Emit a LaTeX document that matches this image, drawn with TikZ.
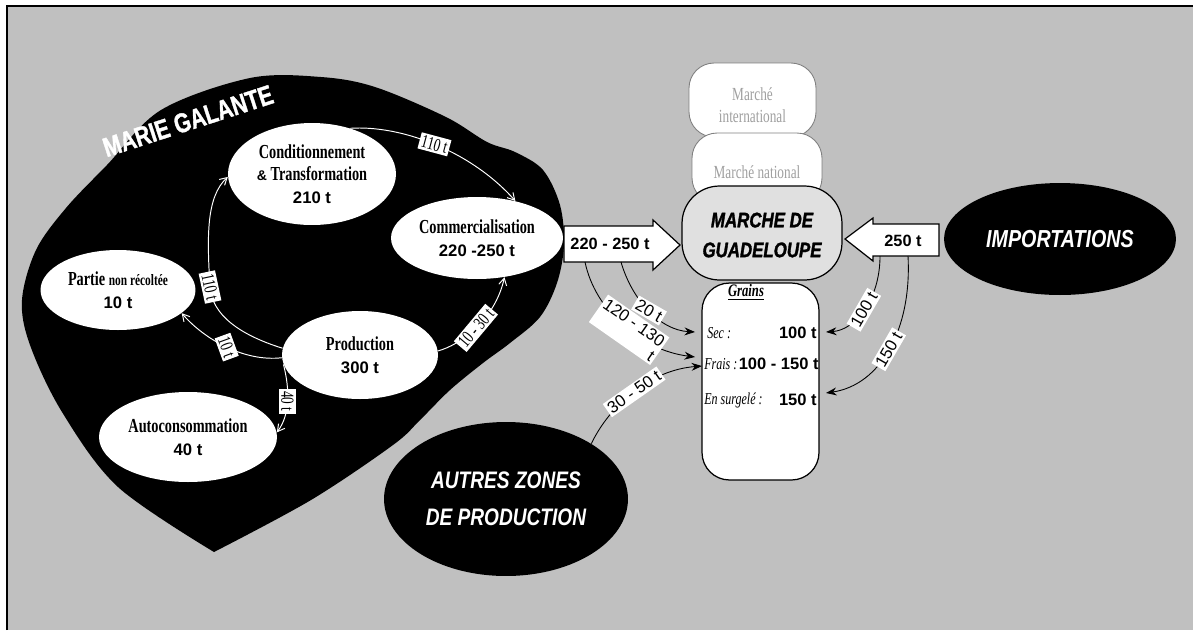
\documentclass[tikz,border=0pt]{standalone}
\usepackage{fontspec}
\setmainfont{Liberation Serif}
\newfontfamily\tmsc[FakeStretch=0.72]{Liberation Serif}
\newfontfamily\arl{Liberation Sans}
\newfontfamily\arn[FakeStretch=0.8]{Liberation Sans}
\newfontfamily\arh[FakeStretch=0.8,FakeBold=1.5]{Liberation Sans}
\newfontfamily\arm[FakeStretch=0.78,FakeBold=1.2]{Liberation Sans}
\usetikzlibrary{arrows.meta,shapes.geometric}
\definecolor{bgray}{HTML}{C0C0C0}
\definecolor{mgray}{HTML}{E0E0E0}
\definecolor{tgray}{HTML}{A0A0A0}
\tikzset{
  wel/.style={ellipse, fill=white, inner sep=0pt, align=center},
  bel/.style={ellipse, fill=black, inner sep=0pt, align=center, text=white},
  ilab/.style={fill=white, inner sep=1.2pt, font=\tmsc\fontsize{10.5}{11}\selectfont},
  olab/.style={fill=white, inner sep=1.2pt, font=\arl\fontsize{9.5}{10}\selectfont},
  warr/.style={draw=white, line width=0.55pt, -{Straight Barb[length=4pt,width=4.5pt]}},
  barr/.style={draw=black, line width=0.5pt, -{Stealth[length=6pt,width=4.5pt]}},
  ttl/.style={font=\tmsc\bfseries\fontsize{11.3}{12.8}\selectfont},
  num/.style={font=\arl\bfseries\fontsize{9.3}{12}\selectfont},
  bigarrow/.style={draw=black, fill=white, line width=0.7pt},
  mbox/.style={draw=gray, fill=white, line width=0.5pt, inner sep=0pt},
  mtxt/.style={text=tgray, align=center, font=\tmsc\fontsize{10.5}{12.8}\selectfont},
  gtxt/.style={font=\tmsc\itshape\fontsize{9.5}{11}\selectfont, inner sep=0pt},
  gnum/.style={font=\arl\bfseries\fontsize{9.4}{11}\selectfont, inner sep=0pt},
}
\begin{document}
\begin{tikzpicture}[x=0.02cm,y=-0.02cm]
\useasboundingbox (0,0) rectangle (1193,630);
\fill[white] (0,0) rectangle (1193,630);
\fill[bgray] (7,6) rectangle (1193,630);
\draw[line width=1.2pt] (7,630) -- (7,6) -- (1193,6);

% Marie Galante island
\fill[black] plot[smooth, tension=0.55] coordinates {(214,552) (118,487) (62,412) (30,345) (22,300) (36,250) (66,208) (107,165) (161,110) (250,78) (321,77) (375,87) (446,117) (487,142) (515,152) (543,170) (560,205) (564,245) (557,283) (540,317) (510,343) (483,363) (450,390) (420,420) (393,445) (311,500) (214,552)} -- cycle;

\node[rotate=18, text=white, inner sep=0pt, font=\arm\bfseries\fontsize{15.5}{16}\selectfont] (mgal) at (188,121) {MARIE GALANTE};

\node[wel, ttl, minimum width=3.36cm, minimum height=2.04cm] (cond) at (312,174)
  {Conditionnement\\{\arl\fontsize{8}{12.8}\selectfont\&} Transformation\\{\arl\fontsize{9.5}{12.8}\selectfont 210 t}};
\node[wel, ttl, minimum width=3.44cm, minimum height=1.64cm] (comm) at (477,238)
  {Commercialisation\\{\arl\fontsize{9.5}{12.8}\selectfont 220 -250 t}};
\node[wel, ttl, minimum width=3.1cm, minimum height=1.6cm] (partie) at (118,290)
  {Partie {\fontsize{9}{12.8}\selectfont non récoltée}\\{\arl\fontsize{9.5}{12.8}\selectfont 10 t}};
\node[wel, ttl, minimum width=3.12cm, minimum height=1.76cm] (prod) at (360,355)
  {Production\\{\arl\fontsize{9.5}{12.8}\selectfont 300 t}};
\node[wel, ttl, minimum width=3.56cm, minimum height=1.8cm] (auto) at (188,437)
  {Autoconsommation\\{\arl\fontsize{9.5}{12.8}\selectfont 40 t}};

% internal flows
\draw[warr] (cond.50) .. controls (400,125) and (470,150) .. node[pos=.5, ilab, rotate=-15] (l1) {110 t} (comm.44);
\draw[warr] (prod.175) .. controls (240,335) and (212,315) .. (210,287) node[ilab, rotate=-78] (l2) {110 t} .. controls (207,237) and (206,197) .. (cond.182);
\draw[warr] (prod.182) .. controls (245,362) and (205,340) .. node[pos=.5, ilab, rotate=-70] (l3) {10 t} (partie.340);
\draw[warr] (prod.187) .. controls (290,390) and (290,415) .. node[pos=.5, ilab, rotate=-90] (l4) {40 t} (auto.3);
\draw[warr] (prod.3) .. controls (460,345) and (495,320) .. node[pos=.5, ilab, rotate=50] (l5) {10 - 30 t} (comm.305);

% markets
\node[mbox, rounded corners=0.5cm, minimum width=2.54cm, minimum height=1.48cm] (mint) at (752.5,100) {};
\node[mtxt] (minttxt) at (752.5,105) {Marché\\international};
\node[mbox, rounded corners=0.5cm, minimum width=2.6cm, minimum height=1.4cm] (mnat) at (757,168) {};
\node[mtxt] (mnattxt) at (757,172) {Marché national};
\node[draw=black, fill=mgray, line width=0.7pt, rounded corners=0.75cm, minimum width=3.2cm, minimum height=1.88cm, inner sep=0pt] (mgua) at (762,233) {};
\node[align=center, font=\arh\bfseries\itshape\fontsize{12}{17}\selectfont] (mguatxt) at (762,235) {MARCHE DE\\GUADELOUPE};

\node[draw=black, fill=white, line width=0.7pt, rounded corners=0.55cm, minimum width=2.34cm, minimum height=3.94cm, inner sep=0pt] (grains) at (760.5,381.5) {};
\node[font=\tmsc\bfseries\itshape\fontsize{10}{12}\selectfont, inner sep=0pt] (gtitle) at (746,292) {\underline{Grains}};
\node[gtxt, anchor=west] (sec) at (707,333) {Sec :};
\node[gnum, anchor=east] (secv) at (817,333) {100 t};
\node[gtxt, anchor=west] (frais) at (704,364) {Frais :};
\node[gnum, anchor=east] (fraisv) at (819,364) {100 - 150 t};
\node[gtxt, anchor=west] (surg) at (704,400) {En surgelé :};
\node[gnum, anchor=east] (surgv) at (817,400) {150 t};

% block arrows
\draw[bigarrow] (564,226) -- (653,226) -- (653,220) -- (680,245) -- (653,270) -- (653,262) -- (564,262) -- cycle;
\node[num] (a1) at (610,244) {220 - 250 t};
\draw[bigarrow] (845,239) -- (873,218) -- (873,224) -- (939,224) -- (939,256) -- (873,256) -- (873,261) -- cycle;
\node[num] (a2) at (903,241) {250 t};

\node[bel, minimum width=4.64cm, minimum height=2.24cm, font=\arn\bfseries\itshape\fontsize{14}{16}\selectfont] (imp) at (1060,239) {IMPORTATIONS};
\node[bel, minimum width=4.88cm, minimum height=3.08cm, font=\arn\bfseries\itshape\fontsize{13.6}{21}\selectfont] (autres) at (506,499) {AUTRES ZONES\\DE PRODUCTION};

% connector ends
\coordinate (s0) at (585,262);
\coordinate (s1) at (621,262);
\coordinate (s2) at (880,256);
\coordinate (s3) at (908,256);
\coordinate (tsec) at (695,332);
\coordinate (tfrais) at (695,357);
\coordinate (tfrais2) at (702,366);
\coordinate (tsecr) at (826,332);
\coordinate (tsurg) at (826,393);

\draw[barr] (s1) .. controls (632,300) and (660,330) .. node[pos=.5, olab, rotate=-30] (l6) {20 t} (tsec);
\draw[barr] (s0) .. controls (595,310) and (640,350) .. node[pos=.55, olab, rotate=-35, align=right] (l7) {120 - 130\\t} (tfrais);
\draw[barr] (autres.33) .. controls (610,405) and (650,370) .. node[pos=.5, olab, rotate=35] (l8) {30 - 50 t} (tfrais2);
\draw[barr] (s2) .. controls (880,300) and (855,330) .. node[pos=.5, olab, rotate=60] (l9) {100 t} (tsecr);
\draw[barr] (s3) .. controls (912,330) and (880,385) .. node[pos=.5, olab, rotate=60] (l10) {150 t} (tsurg);
\end{tikzpicture}
\end{document}
